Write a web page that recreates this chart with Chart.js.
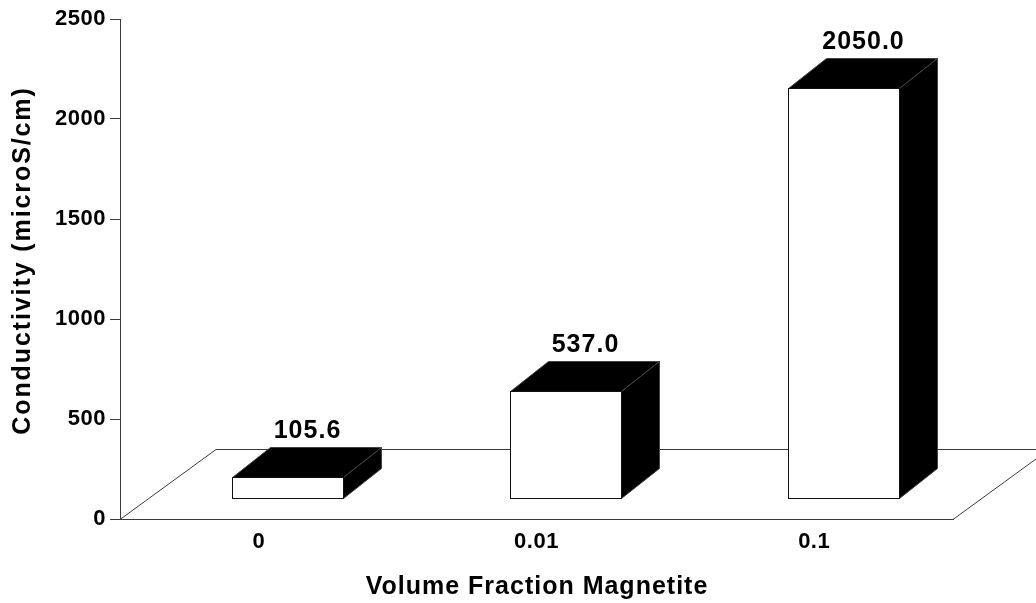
<!DOCTYPE html>
<html>
<head>
<meta charset="utf-8">
<script src="https://cdn.jsdelivr.net/npm/chart.js@4.4.1/dist/chart.umd.min.js"></script>
<style>
  html, body { margin: 0; padding: 0; background: #fff; }
  #wrap { width: 1036px; height: 603px; }
</style>
</head>
<body>
<div id="wrap"><canvas id="c" width="1036" height="603"></canvas></div>
<script>
// Conductivity of the samples per magnetite volume fraction
const categories = ['0', '0.01', '0.1'];
const conductivity = [105.6, 537.0, 2050.0];
const yTicks = [0, 500, 1000, 1500, 2000, 2500];
const xTitle = 'Volume Fraction Magnetite';
const yTitle = 'Conductivity (microS/cm)';

const FONT = '"Liberation Sans", Arial, Helvetica, sans-serif';
const LINE = '#3a3a3a';

// Pseudo-3D projection: floor depth vector, bar set-back and bar depth
const FLOOR_DX = 96, FLOOR_DY = -70;
const BAR_FX = 29, BAR_FY = -21;
const BAR_DX = 38, BAR_DY = -30;

const boxes3d = {
  id: 'boxes3d',
  beforeDraw(chart) {
    chart.ctx.letterSpacing = '0.5px';
  },
  beforeDatasetsDraw(chart) {
    const ctx = chart.ctx;
    const { left, right } = chart.chartArea;
    const y0 = chart.scales.y.getPixelForValue(0);
    ctx.save();
    ctx.strokeStyle = LINE;
    ctx.lineWidth = 1;
    ctx.beginPath();
    ctx.moveTo(left, y0 + 0.5);
    ctx.lineTo(left + FLOOR_DX, y0 + FLOOR_DY + 0.5);
    ctx.lineTo(right + FLOOR_DX, y0 + FLOOR_DY + 0.5);
    ctx.lineTo(right, y0 + 0.5);
    ctx.stroke();
    ctx.restore();
  },
  afterDatasetsDraw(chart) {
    const ctx = chart.ctx;
    const meta = chart.getDatasetMeta(0);
    const values = chart.data.datasets[0].data;
    ctx.save();
    meta.data.forEach((bar, i) => {
      const { x, y, base, width } = bar.getProps(['x', 'y', 'base', 'width'], true);
      const l = Math.round(x - width / 2 + BAR_FX) + 0.5;
      const r = Math.round(x + width / 2 + BAR_FX) + 0.5;
      const t = Math.round(y + BAR_FY) + 0.5;
      const b = Math.round(base + BAR_FY) + 0.5;

      // top face
      ctx.beginPath();
      ctx.moveTo(l, t);
      ctx.lineTo(l + BAR_DX, t + BAR_DY);
      ctx.lineTo(r + BAR_DX, t + BAR_DY);
      ctx.lineTo(r, t);
      ctx.closePath();
      ctx.fillStyle = '#000';
      ctx.fill();
      ctx.strokeStyle = '#444';
      ctx.lineWidth = 1;
      ctx.stroke();

      // side face
      ctx.beginPath();
      ctx.moveTo(r, t);
      ctx.lineTo(r + BAR_DX, t + BAR_DY);
      ctx.lineTo(r + BAR_DX, b + BAR_DY);
      ctx.lineTo(r, b);
      ctx.closePath();
      ctx.fill();
      ctx.stroke();

      // front face
      ctx.fillStyle = '#fff';
      ctx.fillRect(l, t, r - l, b - t);
      ctx.strokeStyle = '#111';
      ctx.strokeRect(l, t, r - l, b - t);

      // value label above the box
      ctx.fillStyle = '#000';
      ctx.font = 'bold 25px ' + FONT;
      ctx.letterSpacing = '1px';
      ctx.textAlign = 'center';
      ctx.textBaseline = 'alphabetic';
      ctx.fillText(values[i].toFixed(1), (l + r) / 2 + BAR_DX / 2 + 0.5, t + BAR_DY - 10);
    });
    ctx.restore();
  },
  afterDraw(chart) {
    const ctx = chart.ctx;
    const area = chart.chartArea;
    ctx.save();
    ctx.fillStyle = '#000';
    ctx.font = 'bold 25px ' + FONT;
    ctx.textAlign = 'center';
    ctx.textBaseline = 'alphabetic';
    ctx.letterSpacing = '1px';
    ctx.fillText(xTitle, (area.left + area.right) / 2 + 0.5, 594);
    ctx.translate(30, 261.5);
    ctx.rotate(-Math.PI / 2);
    ctx.letterSpacing = '1.9px';
    ctx.fillText(yTitle, 1, 0);
    ctx.restore();
  }
};

new Chart(document.getElementById('c'), {
  type: 'bar',
  data: {
    labels: categories,
    datasets: [{
      data: conductivity,
      backgroundColor: 'rgba(0,0,0,0)',
      borderWidth: 0,
      barPercentage: 0.4,
      categoryPercentage: 1
    }]
  },
  options: {
    responsive: false,
    animation: false,
    devicePixelRatio: 1,
    layout: { padding: { top: 19, right: 83, left: 0, bottom: 0 } },
    plugins: { legend: { display: false }, tooltip: { enabled: false } },
    scales: {
      x: {
        type: 'category',
        offset: true,
        grid: { display: true, drawOnChartArea: false, drawTicks: false },
        border: { display: true, color: LINE, width: 1 },
        ticks: { padding: 10, color: '#000', font: { family: FONT, weight: 'bold', size: 22 } },
        afterFit: s => { s.height = 84; }
      },
      y: {
        min: 0,
        max: 2500,
        afterBuildTicks: s => { s.ticks = yTicks.map(v => ({ value: v })); },
        grid: { display: true, drawOnChartArea: false, drawTicks: true, tickLength: 10, color: LINE },
        border: { display: true, color: LINE, width: 1 },
        ticks: {
          padding: 4,
          color: '#000',
          font: { family: FONT, weight: 'bold', size: 22 },
          callback: v => String(v)
        },
        afterFit: s => { s.width = 120; }
      }
    }
  },
  plugins: [boxes3d]
});
</script>
</body>
</html>
